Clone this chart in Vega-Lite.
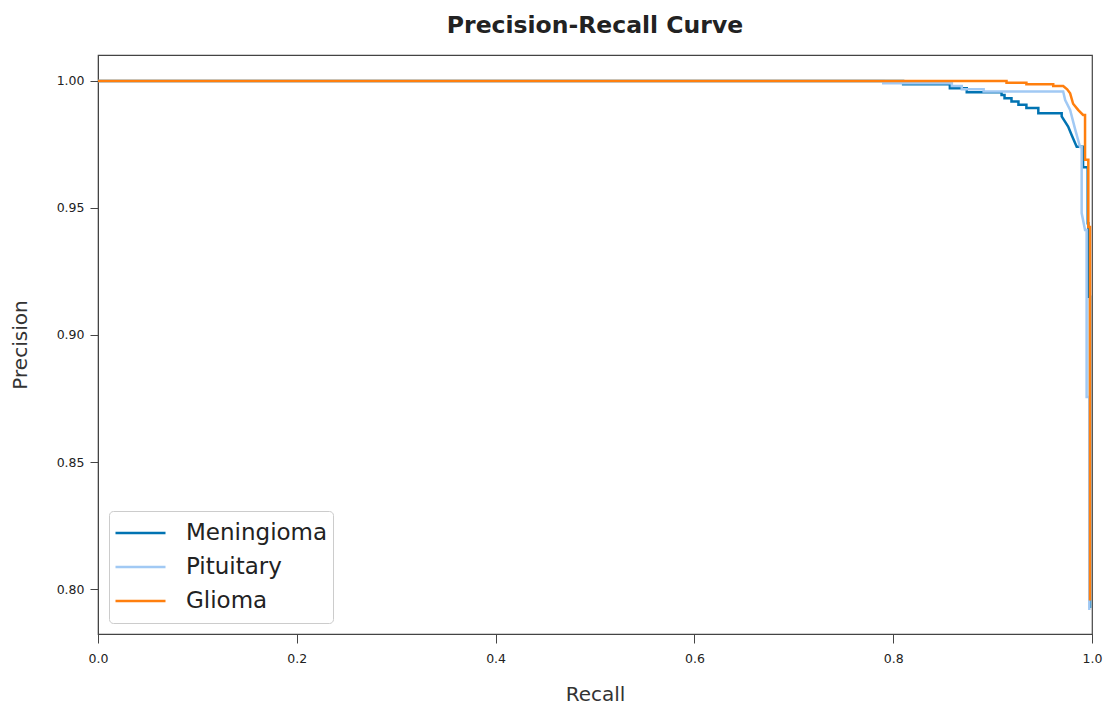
{
  "$schema": "https://vega.github.io/schema/vega-lite/v6.json",
  "width": 994,
  "height": 579,
  "autosize": {"type": "none"},
  "padding": {"left": 98, "top": 55, "right": 14, "bottom": 73},
  "background": "white",
  "title": {"text": "Precision-Recall Curve", "font": "DejaVu Sans", "fontSize": 23.5, "fontWeight": "bold", "color": "#222222", "offset": 18},
  "config": {
    "view": {"stroke": "#444444", "strokeWidth": 1.2},
    "axis": {"grid": false, "labelFont": "DejaVu Sans", "labelFontSize": 12.5, "labelColor": "#222222", "tickColor": "#444444", "domainColor": "#444444", "titleFont": "DejaVu Sans", "titleFontSize": 20, "titleFontWeight": "normal", "titleColor": "#333333", "labelFlush": false}
  },
  "data": {"values": [
    {"c": "Meningioma", "i": 0, "r": 0, "p": 1.0},
    {"c": "Meningioma", "i": 1, "r": 0.81, "p": 1.0},
    {"c": "Meningioma", "i": 2, "r": 0.81, "p": 0.9987},
    {"c": "Meningioma", "i": 3, "r": 0.857, "p": 0.9987},
    {"c": "Meningioma", "i": 4, "r": 0.857, "p": 0.9971},
    {"c": "Meningioma", "i": 5, "r": 0.874, "p": 0.9971},
    {"c": "Meningioma", "i": 6, "r": 0.874, "p": 0.9955},
    {"c": "Meningioma", "i": 7, "r": 0.909, "p": 0.9955},
    {"c": "Meningioma", "i": 8, "r": 0.909, "p": 0.9945},
    {"c": "Meningioma", "i": 9, "r": 0.912, "p": 0.9945},
    {"c": "Meningioma", "i": 10, "r": 0.912, "p": 0.9932},
    {"c": "Meningioma", "i": 11, "r": 0.919, "p": 0.9932},
    {"c": "Meningioma", "i": 12, "r": 0.919, "p": 0.9919},
    {"c": "Meningioma", "i": 13, "r": 0.926, "p": 0.9919},
    {"c": "Meningioma", "i": 14, "r": 0.926, "p": 0.9906},
    {"c": "Meningioma", "i": 15, "r": 0.934, "p": 0.9906},
    {"c": "Meningioma", "i": 16, "r": 0.934, "p": 0.9893},
    {"c": "Meningioma", "i": 17, "r": 0.946, "p": 0.9893},
    {"c": "Meningioma", "i": 18, "r": 0.946, "p": 0.9873},
    {"c": "Meningioma", "i": 19, "r": 0.9695, "p": 0.9873},
    {"c": "Meningioma", "i": 20, "r": 0.9695, "p": 0.986},
    {"c": "Meningioma", "i": 21, "r": 0.976, "p": 0.982},
    {"c": "Meningioma", "i": 22, "r": 0.9795, "p": 0.9787},
    {"c": "Meningioma", "i": 23, "r": 0.9846, "p": 0.9741},
    {"c": "Meningioma", "i": 24, "r": 0.991, "p": 0.9741},
    {"c": "Meningioma", "i": 25, "r": 0.991, "p": 0.966},
    {"c": "Meningioma", "i": 26, "r": 0.9957, "p": 0.966},
    {"c": "Meningioma", "i": 27, "r": 0.9957, "p": 0.944},
    {"c": "Meningioma", "i": 28, "r": 0.9963, "p": 0.944},
    {"c": "Meningioma", "i": 29, "r": 0.9963, "p": 0.915},
    {"c": "Meningioma", "i": 30, "r": 0.998, "p": 0.915},
    {"c": "Meningioma", "i": 31, "r": 0.998, "p": 0.7925},
    {"c": "Pituitary", "i": 0, "r": 0, "p": 1.0},
    {"c": "Pituitary", "i": 1, "r": 0.79, "p": 1.0},
    {"c": "Pituitary", "i": 2, "r": 0.79, "p": 0.9991},
    {"c": "Pituitary", "i": 3, "r": 0.859, "p": 0.9991},
    {"c": "Pituitary", "i": 4, "r": 0.859, "p": 0.998},
    {"c": "Pituitary", "i": 5, "r": 0.869, "p": 0.998},
    {"c": "Pituitary", "i": 6, "r": 0.869, "p": 0.9967},
    {"c": "Pituitary", "i": 7, "r": 0.891, "p": 0.9967},
    {"c": "Pituitary", "i": 8, "r": 0.891, "p": 0.9958},
    {"c": "Pituitary", "i": 9, "r": 0.971, "p": 0.9958},
    {"c": "Pituitary", "i": 10, "r": 0.973, "p": 0.9925},
    {"c": "Pituitary", "i": 11, "r": 0.978, "p": 0.9886},
    {"c": "Pituitary", "i": 12, "r": 0.983, "p": 0.981},
    {"c": "Pituitary", "i": 13, "r": 0.988, "p": 0.974},
    {"c": "Pituitary", "i": 14, "r": 0.9896, "p": 0.974},
    {"c": "Pituitary", "i": 15, "r": 0.9896, "p": 0.948},
    {"c": "Pituitary", "i": 16, "r": 0.993, "p": 0.9413},
    {"c": "Pituitary", "i": 17, "r": 0.9946, "p": 0.9413},
    {"c": "Pituitary", "i": 18, "r": 0.9946, "p": 0.8756},
    {"c": "Pituitary", "i": 19, "r": 0.9973, "p": 0.8756},
    {"c": "Pituitary", "i": 20, "r": 0.9973, "p": 0.7917},
    {"c": "Glioma", "i": 0, "r": 0, "p": 1.0},
    {"c": "Glioma", "i": 1, "r": 0.914, "p": 1.0},
    {"c": "Glioma", "i": 2, "r": 0.914, "p": 0.9993},
    {"c": "Glioma", "i": 3, "r": 0.934, "p": 0.9993},
    {"c": "Glioma", "i": 4, "r": 0.934, "p": 0.9987},
    {"c": "Glioma", "i": 5, "r": 0.961, "p": 0.9987},
    {"c": "Glioma", "i": 6, "r": 0.961, "p": 0.998},
    {"c": "Glioma", "i": 7, "r": 0.971, "p": 0.998},
    {"c": "Glioma", "i": 8, "r": 0.975, "p": 0.9967},
    {"c": "Glioma", "i": 9, "r": 0.978, "p": 0.9951},
    {"c": "Glioma", "i": 10, "r": 0.981, "p": 0.991},
    {"c": "Glioma", "i": 11, "r": 0.986, "p": 0.9886},
    {"c": "Glioma", "i": 12, "r": 0.991, "p": 0.9866},
    {"c": "Glioma", "i": 13, "r": 0.993, "p": 0.9866},
    {"c": "Glioma", "i": 14, "r": 0.993, "p": 0.969},
    {"c": "Glioma", "i": 15, "r": 0.9963, "p": 0.969},
    {"c": "Glioma", "i": 16, "r": 0.9963, "p": 0.9425},
    {"c": "Glioma", "i": 17, "r": 0.998, "p": 0.9425},
    {"c": "Glioma", "i": 18, "r": 0.998, "p": 0.7955}
  ]},
  "mark": {"type": "line", "strokeWidth": 2.5, "clip": true},
  "encoding": {
    "x": {"field": "r", "type": "quantitative", "title": "Recall", "scale": {"domain": [0, 1], "nice": false, "zero": false}, "axis": {"values": [0, 0.2, 0.4, 0.6, 0.8, 1.0], "format": ".1f", "tickSize": 9, "labelPadding": 9, "titlePadding": 20}},
    "y": {"field": "p", "type": "quantitative", "title": "Precision", "scale": {"domain": [0.7823, 1.0102], "nice": false, "zero": false}, "axis": {"values": [0.8, 0.85, 0.9, 0.95, 1.0], "format": ".2f", "tickSize": 8, "labelPadding": 6, "titlePadding": 26}},
    "color": {"field": "c", "type": "nominal", "sort": ["Meningioma", "Pituitary", "Glioma"], "scale": {"domain": ["Meningioma", "Pituitary", "Glioma"], "range": ["#0173b2", "#a1c9f4", "#ff7f0e"]},
      "legend": {"title": null, "orient": "bottom-left", "offset": 11, "symbolType": "stroke", "symbolSize": 2500, "symbolStrokeWidth": 2.5, "clipHeight": 34, "labelFont": "DejaVu Sans", "labelFontSize": 23, "labelColor": "#222222", "labelOffset": 19, "rowPadding": 0, "padding": 5, "strokeColor": "#cccccc", "fillColor": "white", "cornerRadius": 4}},
    "order": {"field": "i", "type": "quantitative"}
  }
}
